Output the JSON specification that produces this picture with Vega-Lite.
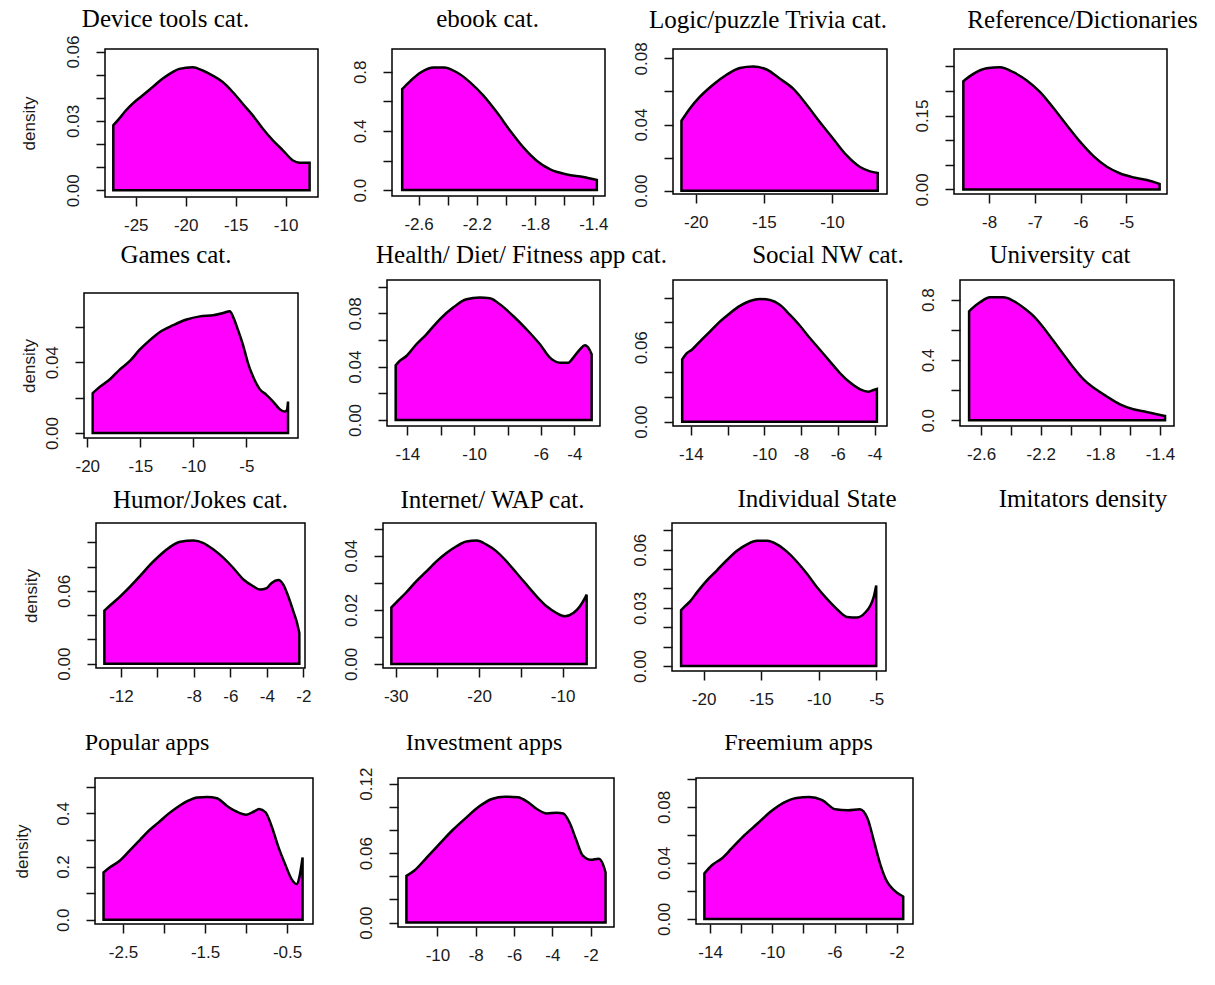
{
"$schema":"https://vega.github.io/schema/vega-lite/v6.json",
"padding":0,"background":"white","spacing":0,
"config":{
 "view":{"stroke":"#000","strokeWidth":1.5},
 "axis":{"domain":false,"grid":false,"ticks":true,"tickColor":"#111","tickWidth":1.5,"tickSize":9,"labelFont":"Liberation Sans","labelFontSize":17,"labelColor":"#1a1a1a","labelOverlap":false,"labelFlush":false,"labelPadding":11,"titleFont":"Liberation Sans","titleFontSize":17,"titleFontWeight":"normal","titleColor":"#1a1a1a"},
 "axisY":{"labelAngle":-90,"labelAlign":"center","labelBaseline":"bottom","labelPadding":14},
 "title":{"font":"Liberation Serif","fontSize":25,"fontWeight":"normal","color":"#000","baseline":"alphabetic","frame":"group","anchor":"middle"}
},
"datasets":{
 "dev":[{"x":-27.25,"y":0.0281},{"x":-26.68,"y":0.0309},{"x":-26.0,"y":0.0345},{"x":-25.34,"y":0.0374},{"x":-24.33,"y":0.041},{"x":-23.33,"y":0.0446},{"x":-22.33,"y":0.0482},{"x":-21.32,"y":0.0511},{"x":-20.65,"y":0.0525},{"x":-19.31,"y":0.0532},{"x":-18.31,"y":0.0518},{"x":-17.3,"y":0.0496},{"x":-16.3,"y":0.0468},{"x":-15.3,"y":0.0425},{"x":-14.29,"y":0.0374},{"x":-13.29,"y":0.0324},{"x":-12.28,"y":0.0266},{"x":-11.28,"y":0.0216},{"x":-10.28,"y":0.0173},{"x":-9.27,"y":0.0129},{"x":-8.6,"y":0.0119},{"x":-7.6,"y":0.0119}],
 "ebook":[{"x":-2.712,"y":0.683},{"x":-2.655,"y":0.739},{"x":-2.586,"y":0.795},{"x":-2.495,"y":0.829},{"x":-2.427,"y":0.829},{"x":-2.335,"y":0.795},{"x":-2.244,"y":0.727},{"x":-2.153,"y":0.637},{"x":-2.061,"y":0.524},{"x":-1.97,"y":0.4},{"x":-1.879,"y":0.287},{"x":-1.787,"y":0.197},{"x":-1.696,"y":0.14},{"x":-1.582,"y":0.106},{"x":-1.468,"y":0.088},{"x":-1.376,"y":0.068}],
 "logic":[{"x":-21.05,"y":0.0423},{"x":-20.44,"y":0.0496},{"x":-19.71,"y":0.0567},{"x":-18.73,"y":0.0641},{"x":-17.74,"y":0.0701},{"x":-16.76,"y":0.0742},{"x":-15.79,"y":0.0751},{"x":-14.8,"y":0.0733},{"x":-13.82,"y":0.0677},{"x":-12.85,"y":0.0617},{"x":-11.86,"y":0.052},{"x":-10.88,"y":0.0414},{"x":-9.9,"y":0.0313},{"x":-8.92,"y":0.0213},{"x":-7.94,"y":0.0143},{"x":-7.21,"y":0.0117},{"x":-6.64,"y":0.0107}],
 "ref":[{"x":-8.562,"y":0.2197},{"x":-8.343,"y":0.2345},{"x":-8.051,"y":0.246},{"x":-7.759,"y":0.248},{"x":-7.468,"y":0.2379},{"x":-7.175,"y":0.2211},{"x":-6.883,"y":0.1975},{"x":-6.592,"y":0.1652},{"x":-6.299,"y":0.1302},{"x":-6.007,"y":0.0964},{"x":-5.716,"y":0.0675},{"x":-5.423,"y":0.0459},{"x":-5.131,"y":0.0323},{"x":-4.839,"y":0.0243},{"x":-4.546,"y":0.019},{"x":-4.27,"y":0.0109}],
 "games":[{"x":-19.49,"y":0.0225},{"x":-18.8,"y":0.0262},{"x":-17.86,"y":0.0304},{"x":-16.92,"y":0.036},{"x":-15.98,"y":0.0407},{"x":-15.04,"y":0.0472},{"x":-14.1,"y":0.0525},{"x":-13.15,"y":0.0571},{"x":-11.9,"y":0.0609},{"x":-10.64,"y":0.0641},{"x":-9.39,"y":0.0659},{"x":-8.13,"y":0.0665},{"x":-7.19,"y":0.0678},{"x":-6.56,"y":0.0688},{"x":-6.25,"y":0.0656},{"x":-5.78,"y":0.0581},{"x":-5.31,"y":0.0497},{"x":-4.84,"y":0.0394},{"x":-4.37,"y":0.0319},{"x":-3.74,"y":0.0248},{"x":-3.11,"y":0.0216},{"x":-2.48,"y":0.0178},{"x":-1.85,"y":0.0135},{"x":-1.38,"y":0.0121},{"x":-1.17,"y":0.0131},{"x":-1.07,"y":0.0178}],
 "health":[{"x":-14.7,"y":0.041},{"x":-14.46,"y":0.0443},{"x":-14.06,"y":0.048},{"x":-13.46,"y":0.0568},{"x":-12.86,"y":0.0643},{"x":-12.06,"y":0.0755},{"x":-11.26,"y":0.0843},{"x":-10.46,"y":0.0905},{"x":-9.66,"y":0.0918},{"x":-9.06,"y":0.0913},{"x":-8.46,"y":0.0868},{"x":-7.66,"y":0.078},{"x":-6.86,"y":0.068},{"x":-6.06,"y":0.0568},{"x":-5.46,"y":0.0468},{"x":-4.86,"y":0.043},{"x":-4.36,"y":0.043},{"x":-4.06,"y":0.0468},{"x":-3.66,"y":0.053},{"x":-3.36,"y":0.056},{"x":-3.1,"y":0.053},{"x":-2.96,"y":0.0493}],
 "social":[{"x":-14.47,"y":0.0502},{"x":-14.23,"y":0.0551},{"x":-13.96,"y":0.0578},{"x":-13.51,"y":0.0646},{"x":-12.96,"y":0.0726},{"x":-12.42,"y":0.0806},{"x":-11.87,"y":0.0874},{"x":-11.33,"y":0.0933},{"x":-10.78,"y":0.0973},{"x":-10.24,"y":0.0989},{"x":-9.69,"y":0.0981},{"x":-9.14,"y":0.0941},{"x":-8.6,"y":0.086},{"x":-8.05,"y":0.0771},{"x":-7.51,"y":0.0672},{"x":-6.96,"y":0.0578},{"x":-6.42,"y":0.0484},{"x":-5.87,"y":0.039},{"x":-5.33,"y":0.0315},{"x":-4.78,"y":0.0261},{"x":-4.33,"y":0.0242},{"x":-4.05,"y":0.0255},{"x":-3.87,"y":0.0263}],
 "univ":[{"x":-2.68,"y":0.723},{"x":-2.652,"y":0.749},{"x":-2.607,"y":0.783},{"x":-2.54,"y":0.816},{"x":-2.451,"y":0.816},{"x":-2.384,"y":0.793},{"x":-2.317,"y":0.749},{"x":-2.249,"y":0.693},{"x":-2.182,"y":0.616},{"x":-2.115,"y":0.527},{"x":-2.048,"y":0.439},{"x":-1.981,"y":0.35},{"x":-1.914,"y":0.273},{"x":-1.847,"y":0.217},{"x":-1.757,"y":0.158},{"x":-1.668,"y":0.106},{"x":-1.579,"y":0.073},{"x":-1.489,"y":0.055},{"x":-1.422,"y":0.04},{"x":-1.366,"y":0.029}],
 "humor":[{"x":-12.91,"y":0.0437},{"x":-12.59,"y":0.0481},{"x":-12.04,"y":0.0555},{"x":-11.49,"y":0.0637},{"x":-10.94,"y":0.0725},{"x":-10.4,"y":0.0815},{"x":-9.85,"y":0.0895},{"x":-9.3,"y":0.0962},{"x":-8.75,"y":0.1004},{"x":-8.03,"y":0.1014},{"x":-7.48,"y":0.0994},{"x":-6.93,"y":0.094},{"x":-6.38,"y":0.0871},{"x":-5.84,"y":0.0788},{"x":-5.29,"y":0.0693},{"x":-4.74,"y":0.0637},{"x":-4.38,"y":0.061},{"x":-4.01,"y":0.0623},{"x":-3.74,"y":0.0665},{"x":-3.37,"y":0.0689},{"x":-3.1,"y":0.0651},{"x":-2.83,"y":0.0555},{"x":-2.55,"y":0.0431},{"x":-2.37,"y":0.0349},{"x":-2.22,"y":0.0252}],
 "internet":[{"x":-30.52,"y":0.0209},{"x":-29.92,"y":0.0228},{"x":-28.72,"y":0.0265},{"x":-27.52,"y":0.0306},{"x":-26.32,"y":0.0342},{"x":-25.12,"y":0.0379},{"x":-23.92,"y":0.041},{"x":-22.72,"y":0.0435},{"x":-21.52,"y":0.0453},{"x":-20.32,"y":0.0456},{"x":-19.12,"y":0.0441},{"x":-17.92,"y":0.0416},{"x":-16.72,"y":0.0379},{"x":-15.52,"y":0.0336},{"x":-14.32,"y":0.0293},{"x":-13.12,"y":0.025},{"x":-11.92,"y":0.0213},{"x":-10.72,"y":0.0188},{"x":-9.72,"y":0.0176},{"x":-8.72,"y":0.0188},{"x":-7.92,"y":0.0213},{"x":-7.32,"y":0.0244},{"x":-7.12,"y":0.0256}],
 "indiv":[{"x":-21.96,"y":0.0288},{"x":-21.59,"y":0.031},{"x":-21.16,"y":0.0335},{"x":-20.58,"y":0.038},{"x":-19.71,"y":0.0442},{"x":-18.84,"y":0.0494},{"x":-17.97,"y":0.0547},{"x":-17.1,"y":0.0595},{"x":-16.23,"y":0.0628},{"x":-15.36,"y":0.0646},{"x":-14.49,"y":0.0646},{"x":-13.63,"y":0.0628},{"x":-12.76,"y":0.059},{"x":-11.89,"y":0.0538},{"x":-11.02,"y":0.0476},{"x":-10.15,"y":0.0406},{"x":-9.28,"y":0.0346},{"x":-8.41,"y":0.0293},{"x":-7.54,"y":0.0253},{"x":-6.67,"y":0.025},{"x":-5.95,"y":0.0276},{"x":-5.52,"y":0.0311},{"x":-5.23,"y":0.0354},{"x":-5.0,"y":0.0416}],
 "popular":[{"x":-2.737,"y":0.178},{"x":-2.659,"y":0.197},{"x":-2.54,"y":0.222},{"x":-2.422,"y":0.259},{"x":-2.303,"y":0.297},{"x":-2.185,"y":0.335},{"x":-2.066,"y":0.366},{"x":-1.948,"y":0.398},{"x":-1.829,"y":0.425},{"x":-1.711,"y":0.447},{"x":-1.592,"y":0.46},{"x":-1.473,"y":0.462},{"x":-1.355,"y":0.457},{"x":-1.236,"y":0.429},{"x":-1.118,"y":0.407},{"x":-0.998,"y":0.395},{"x":-0.904,"y":0.407},{"x":-0.841,"y":0.416},{"x":-0.762,"y":0.404},{"x":-0.683,"y":0.347},{"x":-0.604,"y":0.272},{"x":-0.525,"y":0.21},{"x":-0.445,"y":0.153},{"x":-0.383,"y":0.134},{"x":-0.351,"y":0.159},{"x":-0.311,"y":0.234}],
 "invest":[{"x":-11.62,"y":0.0404},{"x":-11.22,"y":0.0448},{"x":-10.54,"y":0.0566},{"x":-9.87,"y":0.0684},{"x":-9.19,"y":0.0802},{"x":-8.51,"y":0.0905},{"x":-7.83,"y":0.1002},{"x":-7.16,"y":0.1068},{"x":-6.48,"y":0.1088},{"x":-5.8,"y":0.1082},{"x":-5.3,"y":0.1043},{"x":-4.79,"y":0.0979},{"x":-4.28,"y":0.0943},{"x":-3.77,"y":0.0949},{"x":-3.43,"y":0.0943},{"x":-3.09,"y":0.086},{"x":-2.75,"y":0.0713},{"x":-2.42,"y":0.058},{"x":-2.0,"y":0.0542},{"x":-1.57,"y":0.0551},{"x":-1.33,"y":0.0492},{"x":-1.22,"y":0.0433}],
 "free":[{"x":-14.37,"y":0.0325},{"x":-13.87,"y":0.0385},{"x":-13.25,"y":0.0432},{"x":-12.62,"y":0.0503},{"x":-11.79,"y":0.0598},{"x":-10.95,"y":0.0681},{"x":-10.12,"y":0.0765},{"x":-9.29,"y":0.0829},{"x":-8.45,"y":0.0864},{"x":-7.62,"y":0.0871},{"x":-6.79,"y":0.0848},{"x":-5.96,"y":0.0783},{"x":-5.12,"y":0.0776},{"x":-4.37,"y":0.0783},{"x":-3.87,"y":0.0716},{"x":-3.45,"y":0.055},{"x":-3.04,"y":0.0385},{"x":-2.62,"y":0.0266},{"x":-2.2,"y":0.0207},{"x":-1.58,"y":0.0159}]
},
"vconcat":[
{"bounds":"flush","spacing":0,"hconcat":[
 {"width":105,"height":191,"title":{"text":" ","offset":24},"data":{"values":[]},"mark":"point","view":{"stroke":null}},
 {"width":213,"height":148,"title":{"text":"Device tools cat.","dx":-46,"offset":3},"data":{"name":"dev"},
  "mark":{"type":"area","fill":"#ff00ff","stroke":"#000","strokeWidth":2.5,"interpolate":"monotone"},
  "encoding":{"x":{"field":"x","type":"quantitative","scale":{"domain":[-28.08,-6.76],"nice":false,"zero":false},"axis":{"title":null,"values":[-25,-20,-15,-10],"labelExpr":"toString(datum.value)"}},
   "y":{"field":"y","type":"quantitative","scale":{"domain":[-0.0029,0.0611],"nice":false,"zero":false},"axis":{"title":"density","titlePadding":26,"values":[0,0.01,0.02,0.03,0.04,0.05,0.06],"labelExpr":"indexof([0,0.03,0.06],datum.value)>=0?format(datum.value,'.2f'):''"}},
   "y2":{"datum":0}}},
 {"width":74,"height":1,"data":{"values":[]},"mark":"point","view":{"stroke":null}},
 {"width":213,"height":147,"title":{"text":"ebook cat.","dx":-11,"offset":17},"data":{"name":"ebook"},
  "mark":{"type":"area","fill":"#ff00ff","stroke":"#000","strokeWidth":2.5,"interpolate":"monotone"},
  "encoding":{"x":{"field":"x","type":"quantitative","scale":{"domain":[-2.782,-1.32],"nice":false,"zero":false},"axis":{"title":null,"values":[-2.6,-2.4,-2.2,-2,-1.8,-1.6,-1.4],"labelExpr":"indexof([-2.6,-2.2,-1.8,-1.4],datum.value)>=0?toString(datum.value):''"}},
   "y":{"field":"y","type":"quantitative","scale":{"domain":[-0.04,0.954],"nice":false,"zero":false},"axis":{"title":null,"values":[0,0.2,0.4,0.6,0.8],"labelExpr":"indexof([0,0.4,0.8],datum.value)>=0?format(datum.value,'.1f'):''"}},
   "y2":{"datum":0}}},
 {"width":68,"height":1,"data":{"values":[]},"mark":"point","view":{"stroke":null}},
 {"width":214,"height":145,"title":{"text":"Logic/puzzle Trivia cat.","dx":-12,"offset":9},"data":{"name":"logic"},
  "mark":{"type":"area","fill":"#ff00ff","stroke":"#000","strokeWidth":2.5,"interpolate":"monotone"},
  "encoding":{"x":{"field":"x","type":"quantitative","scale":{"domain":[-21.67,-5.96],"nice":false,"zero":false},"axis":{"title":null,"values":[-20,-15,-10],"labelExpr":"toString(datum.value)"}},
   "y":{"field":"y","type":"quantitative","scale":{"domain":[-0.002,0.0857],"nice":false,"zero":false},"axis":{"title":null,"values":[0,0.02,0.04,0.06,0.08],"labelExpr":"indexof([0,0.04,0.08],datum.value)>=0?format(datum.value,'.2f'):''"}},
   "y2":{"datum":0}}},
 {"width":67,"height":1,"data":{"values":[]},"mark":"point","view":{"stroke":null}},
 {"width":213,"height":145,"title":{"text":"Reference/Dictionaries","dx":22,"offset":16},"data":{"name":"ref"},
  "mark":{"type":"area","fill":"#ff00ff","stroke":"#000","strokeWidth":2.5,"interpolate":"monotone"},
  "encoding":{"x":{"field":"x","type":"quantitative","scale":{"domain":[-8.766,-4.109],"nice":false,"zero":false},"axis":{"title":null,"values":[-8,-7,-6,-5],"labelExpr":"toString(datum.value)"}},
   "y":{"field":"y","type":"quantitative","scale":{"domain":[-0.0093,0.285],"nice":false,"zero":false},"axis":{"title":null,"values":[0,0.05,0.1,0.15,0.2,0.25],"labelExpr":"indexof([0,0.15],datum.value)>=0?format(datum.value,'.2f'):''"}},
   "y2":{"datum":0}}}
]},
{"bounds":"flush","spacing":0,"hconcat":[
 {"width":84,"height":203,"title":{"text":" ","offset":15},"data":{"values":[]},"mark":"point","view":{"stroke":null}},
 {"bounds":"flush","spacing":0,"vconcat":[
  {"width":1,"height":13,"data":{"values":[]},"mark":"point","view":{"stroke":null}},
  {"width":214,"height":145,"title":{"text":"Games cat.","dx":-15,"offset":25},"data":{"name":"games"},
   "mark":{"type":"area","fill":"#ff00ff","stroke":"#000","strokeWidth":2.5,"interpolate":"monotone"},
   "encoding":{"x":{"field":"x","type":"quantitative","scale":{"domain":[-20.31,-0.13],"nice":false,"zero":false},"axis":{"title":null,"values":[-20,-15,-10,-5],"labelExpr":"toString(datum.value)"}},
    "y":{"field":"y","type":"quantitative","scale":{"domain":[-0.0028,0.0791],"nice":false,"zero":false},"axis":{"title":"density","titlePadding":5,"values":[0,0.02,0.04,0.06],"labelExpr":"indexof([0,0.04],datum.value)>=0?format(datum.value,'.2f'):''"}},
    "y2":{"datum":0}}}
 ]},
 {"width":303,"height":1,"data":{"values":[]},"mark":"point","view":{"stroke":null}},
 {"width":213,"height":146,"title":{"text":"Health/ Diet/ Fitness app cat.","dx":28,"offset":12},"data":{"name":"health"},
  "mark":{"type":"area","fill":"#ff00ff","stroke":"#000","strokeWidth":2.5,"interpolate":"monotone"},
  "encoding":{"x":{"field":"x","type":"quantitative","scale":{"domain":[-15.22,-2.46],"nice":false,"zero":false},"axis":{"title":null,"values":[-14,-12,-10,-8,-6,-4],"labelExpr":"indexof([-14,-10,-6,-4],datum.value)>=0?toString(datum.value):''"}},
   "y":{"field":"y","type":"quantitative","scale":{"domain":[-0.0045,0.105],"nice":false,"zero":false},"axis":{"title":null,"values":[0,0.02,0.04,0.06,0.08,0.1],"labelExpr":"indexof([0,0.04,0.08],datum.value)>=0?format(datum.value,'.2f'):''"}},
   "y2":{"datum":0}}},
 {"width":73,"height":1,"data":{"values":[]},"mark":"point","view":{"stroke":null}},
 {"width":214,"height":146,"title":{"text":"Social NW cat.","dx":48,"offset":12},"data":{"name":"social"},
  "mark":{"type":"area","fill":"#ff00ff","stroke":"#000","strokeWidth":2.5,"interpolate":"monotone"},
  "encoding":{"x":{"field":"x","type":"quantitative","scale":{"domain":[-14.97,-3.32],"nice":false,"zero":false},"axis":{"title":null,"values":[-14,-12,-10,-8,-6,-4],"labelExpr":"indexof([-14,-10,-8,-6,-4],datum.value)>=0?toString(datum.value):''"}},
   "y":{"field":"y","type":"quantitative","scale":{"domain":[-0.0035,0.1142],"nice":false,"zero":false},"axis":{"title":null,"values":[0,0.02,0.04,0.06,0.08,0.1],"labelExpr":"indexof([0,0.06],datum.value)>=0?format(datum.value,'.2f'):''"}},
   "y2":{"datum":0}}},
 {"width":73,"height":1,"data":{"values":[]},"mark":"point","view":{"stroke":null}},
 {"width":214,"height":146,"title":{"text":"University cat","dx":-7,"offset":12},"data":{"name":"univ"},
  "mark":{"type":"area","fill":"#ff00ff","stroke":"#000","strokeWidth":2.5,"interpolate":"monotone"},
  "encoding":{"x":{"field":"x","type":"quantitative","scale":{"domain":[-2.741,-1.306],"nice":false,"zero":false},"axis":{"title":null,"values":[-2.6,-2.4,-2.2,-2,-1.8,-1.6,-1.4],"labelExpr":"indexof([-2.6,-2.2,-1.8,-1.4],datum.value)>=0?toString(datum.value):''"}},
   "y":{"field":"y","type":"quantitative","scale":{"domain":[-0.038,0.931],"nice":false,"zero":false},"axis":{"title":null,"values":[0,0.2,0.4,0.6,0.8],"labelExpr":"indexof([0,0.4,0.8],datum.value)>=0?format(datum.value,'.1f'):''"}},
   "y2":{"datum":0}}}
]},
{"bounds":"flush","spacing":0,"hconcat":[
 {"width":96,"height":205,"title":{"text":" ","offset":15},"data":{"values":[]},"mark":"point","view":{"stroke":null}},
 {"width":209,"height":145,"title":{"text":"Humor/Jokes cat.","dx":0,"offset":10},"data":{"name":"humor"},
  "mark":{"type":"area","fill":"#ff00ff","stroke":"#000","strokeWidth":2.5,"interpolate":"monotone"},
  "encoding":{"x":{"field":"x","type":"quantitative","scale":{"domain":[-13.37,-1.91],"nice":false,"zero":false},"axis":{"title":null,"values":[-12,-10,-8,-6,-4,-2],"labelExpr":"indexof([-12,-8,-6,-4,-2],datum.value)>=0?toString(datum.value):''"}},
   "y":{"field":"y","type":"quantitative","scale":{"domain":[-0.0036,0.1159],"nice":false,"zero":false},"axis":{"title":"density","titlePadding":15,"values":[0,0.02,0.04,0.06,0.08,0.1],"labelExpr":"indexof([0,0.06],datum.value)>=0?format(datum.value,'.2f'):''"}},
   "y2":{"datum":0}}},
 {"width":78,"height":1,"data":{"values":[]},"mark":"point","view":{"stroke":null}},
 {"width":213,"height":145,"title":{"text":"Internet/ WAP cat.","dx":3,"offset":10},"data":{"name":"internet"},
  "mark":{"type":"area","fill":"#ff00ff","stroke":"#000","strokeWidth":2.5,"interpolate":"monotone"},
  "encoding":{"x":{"field":"x","type":"quantitative","scale":{"domain":[-31.52,-6.0],"nice":false,"zero":false},"axis":{"title":null,"values":[-30,-25,-20,-15,-10],"labelExpr":"indexof([-30,-20,-10],datum.value)>=0?toString(datum.value):''"}},
   "y":{"field":"y","type":"quantitative","scale":{"domain":[-0.0015,0.0521],"nice":false,"zero":false},"axis":{"title":null,"values":[0,0.01,0.02,0.03,0.04,0.05],"labelExpr":"indexof([0,0.02,0.04],datum.value)>=0?format(datum.value,'.2f'):''"}},
   "y2":{"datum":0}}},
 {"width":76,"height":1,"data":{"values":[]},"mark":"point","view":{"stroke":null}},
 {"width":214,"height":148,"title":{"text":"Individual State","dx":38,"offset":11},"data":{"name":"indiv"},
  "mark":{"type":"area","fill":"#ff00ff","stroke":"#000","strokeWidth":2.5,"interpolate":"monotone"},
  "encoding":{"x":{"field":"x","type":"quantitative","scale":{"domain":[-22.75,-4.15],"nice":false,"zero":false},"axis":{"title":null,"values":[-20,-15,-10,-5],"labelExpr":"toString(datum.value)"}},
   "y":{"field":"y","type":"quantitative","scale":{"domain":[-0.0026,0.0738],"nice":false,"zero":false},"axis":{"title":null,"values":[0,0.01,0.02,0.03,0.04,0.05,0.06,0.07],"labelExpr":"indexof([0,0.03,0.06],datum.value)>=0?format(datum.value,'.2f'):''"}},
   "y2":{"datum":0}}},
 {"width":90,"height":1,"data":{"values":[]},"mark":"point","view":{"stroke":null}},
 {"width":214,"height":146,"title":{"text":"Imitators density","dx":0,"offset":11},"data":{"values":[]},"mark":"point","view":{"stroke":null}}
]},
{"bounds":"flush","spacing":0,"hconcat":[
 {"width":95,"height":150,"title":{"text":" ","offset":25},"data":{"values":[]},"mark":"point","view":{"stroke":null}},
 {"width":218,"height":146,"title":{"text":"Popular apps","dx":-57,"offset":23,"fontSize":24},"data":{"name":"popular"},
  "mark":{"type":"area","fill":"#ff00ff","stroke":"#000","strokeWidth":2.5,"interpolate":"monotone"},
  "encoding":{"x":{"field":"x","type":"quantitative","scale":{"domain":[-2.841,-0.184],"nice":false,"zero":false},"axis":{"title":null,"values":[-2.5,-2,-1.5,-1,-0.5],"labelExpr":"indexof([-2.5,-1.5,-0.5],datum.value)>=0?toString(datum.value):''"}},
   "y":{"field":"y","type":"quantitative","scale":{"domain":[-0.016,0.533],"nice":false,"zero":false},"axis":{"title":"density","titlePadding":23,"values":[0,0.1,0.2,0.3,0.4,0.5],"labelExpr":"indexof([0,0.2,0.4],datum.value)>=0?format(datum.value,'.1f'):''"}},
   "y2":{"datum":0}}},
 {"width":85,"height":1,"data":{"values":[]},"mark":"point","view":{"stroke":null}},
 {"width":216,"height":149,"title":{"text":"Investment apps","dx":-22,"offset":12,"fontSize":24},"data":{"name":"invest"},
  "mark":{"type":"area","fill":"#ff00ff","stroke":"#000","strokeWidth":2.5,"interpolate":"monotone"},
  "encoding":{"x":{"field":"x","type":"quantitative","scale":{"domain":[-12.06,-0.78],"nice":false,"zero":false},"axis":{"title":null,"values":[-10,-8,-6,-4,-2],"labelExpr":"toString(datum.value)"}},
   "y":{"field":"y","type":"quantitative","scale":{"domain":[-0.0038,0.1249],"nice":false,"zero":false},"axis":{"title":null,"values":[0,0.02,0.04,0.06,0.08,0.1,0.12],"labelExpr":"indexof([0,0.06,0.12],datum.value)>=0?format(datum.value,'.2f'):''"}},
   "y2":{"datum":0}}},
 {"width":82,"height":1,"data":{"values":[]},"mark":"point","view":{"stroke":null}},
 {"width":217,"height":146,"title":{"text":"Freemium apps","dx":-6,"offset":23,"fontSize":24},"data":{"name":"free"},
  "mark":{"type":"area","fill":"#ff00ff","stroke":"#000","strokeWidth":2.5,"interpolate":"monotone"},
  "encoding":{"x":{"field":"x","type":"quantitative","scale":{"domain":[-14.91,-0.95],"nice":false,"zero":false},"axis":{"title":null,"values":[-14,-12,-10,-8,-6,-4,-2],"labelExpr":"indexof([-14,-10,-6,-2],datum.value)>=0?toString(datum.value):''"}},
   "y":{"field":"y","type":"quantitative","scale":{"domain":[-0.0036,0.1006],"nice":false,"zero":false},"axis":{"title":null,"values":[0,0.02,0.04,0.06,0.08,0.1],"labelExpr":"indexof([0,0.04,0.08],datum.value)>=0?format(datum.value,'.2f'):''"}},
   "y2":{"datum":0}}}
]}
]
}
